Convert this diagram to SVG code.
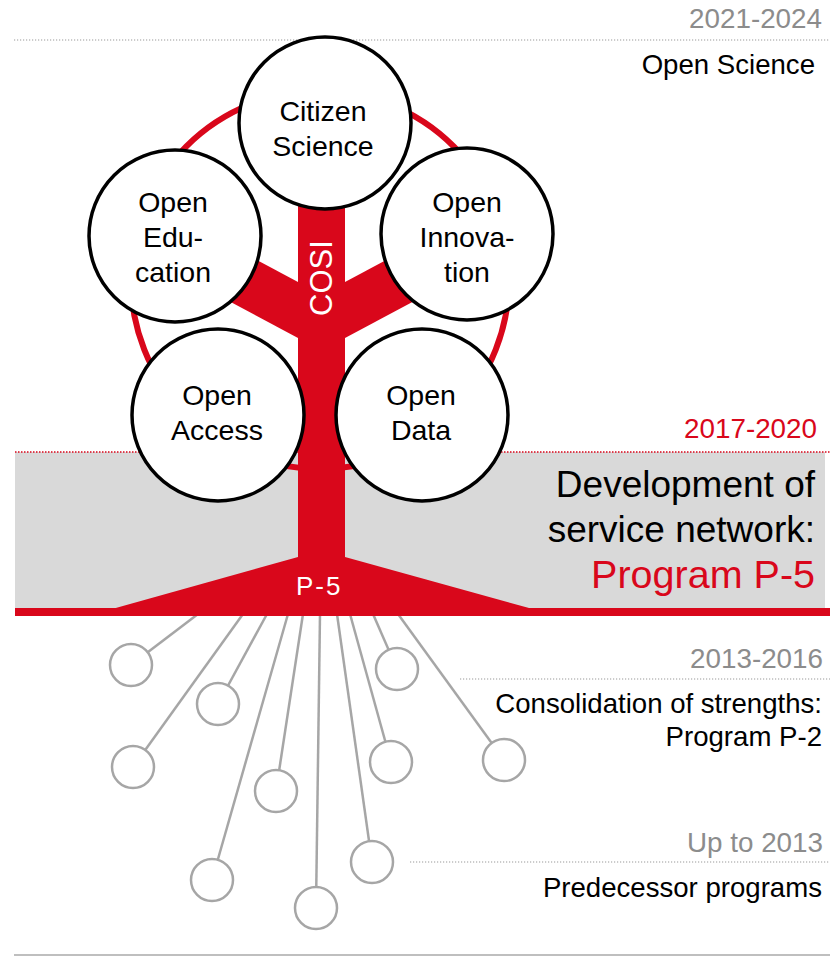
<svg xmlns="http://www.w3.org/2000/svg" width="830" height="957" viewBox="0 0 830 957">
<defs>
<style>
text{font-family:"Liberation Sans",Arial,sans-serif}
.yr{fill:#8c8c8c;font-size:27.8px;text-anchor:end}
.lbl{fill:#000;font-size:27.6px;text-anchor:end}
.big{font-size:37px;text-anchor:end}
.node{fill:#fff;stroke:#000;stroke-width:3.5}
.nt{fill:#000;font-size:28.5px;text-anchor:middle}
.root{stroke:#a6a6a6;stroke-width:2.5;fill:none}
.rc{fill:#fff;stroke:#a6a6a6;stroke-width:2.5}
.dot{stroke:#999;stroke-width:1.2;stroke-dasharray:1.2 1.8;fill:none}
.red{fill:#d9071b}
</style>
<clipPath id="p5clip"><rect x="280" y="560" width="64" height="50"/></clipPath>
</defs>
<rect id="band" x="15" y="452" width="810" height="158" fill="#d9d9d9"/>
<line class="dot" x1="14" y1="40" x2="830" y2="40"/>
<line x1="15" y1="452" x2="830" y2="452" stroke="#d9071b" stroke-width="1.5" stroke-dasharray="1.5 1.5"/>
<line class="dot" x1="460" y1="679" x2="830" y2="679"/>
<line class="dot" x1="410" y1="862" x2="830" y2="862"/>
<line x1="14" y1="955" x2="830" y2="955" stroke="#aaa" stroke-width="1.5"/>
<g id="roots">
<line class="root" x1="198" y1="614" x2="131" y2="665"/>
<line class="root" x1="243" y1="614" x2="133" y2="767"/>
<line class="root" x1="267" y1="614" x2="218" y2="704"/>
<line class="root" x1="288" y1="614" x2="212" y2="880"/>
<line class="root" x1="303" y1="614" x2="276" y2="791"/>
<line class="root" x1="320" y1="614" x2="316" y2="908"/>
<line class="root" x1="337" y1="614" x2="372" y2="862"/>
<line class="root" x1="350" y1="614" x2="391" y2="762"/>
<line class="root" x1="373" y1="614" x2="397" y2="669"/>
<line class="root" x1="398" y1="614" x2="504" y2="760"/>
</g>
<g id="root-nodes">
<circle class="rc" cx="131" cy="665" r="21"/>
<circle class="rc" cx="218" cy="704" r="21"/>
<circle class="rc" cx="133" cy="767" r="21"/>
<circle class="rc" cx="276" cy="791" r="21"/>
<circle class="rc" cx="212" cy="880" r="21"/>
<circle class="rc" cx="316" cy="908" r="21"/>
<circle class="rc" cx="372" cy="862" r="21"/>
<circle class="rc" cx="391" cy="762" r="21"/>
<circle class="rc" cx="397" cy="669" r="21"/>
<circle class="rc" cx="504" cy="760" r="21"/>
</g>
<g id="tree">
<circle cx="320" cy="280" r="189" fill="none" stroke="#d9071b" stroke-width="6"/>
<polygon class="red" points="298,282 298,338 180,275 180,219"/>
<polygon class="red" points="345,282 345,338 463,275 463,219"/>
<rect class="red" x="298" y="190" width="47" height="375"/>
<polygon class="red" points="298,557 345,557 540,611 105,611"/>
<rect class="red" x="15" y="608" width="815" height="8"/>
<text x="332" y="278" fill="#fff" font-size="31" text-anchor="middle" transform="rotate(-90 332 278)">COSI</text>
<text x="296" y="595" fill="#fff" font-size="26" letter-spacing="2" clip-path="url(#p5clip)">P-5</text>
</g>
<g id="n-citizen"><circle class="node" cx="325" cy="123" r="86"/><text class="nt" x="323" y="121">Citizen</text><text class="nt" x="323" y="156">Science</text></g>
<g id="n-education"><circle class="node" cx="175" cy="236" r="86"/><text class="nt" x="173" y="212">Open</text><text class="nt" x="173" y="247">Edu-</text><text class="nt" x="173" y="282">cation</text></g>
<g id="n-innovation"><circle class="node" cx="467" cy="234" r="86"/><text class="nt" x="467" y="212">Open</text><text class="nt" x="467" y="247">Innova-</text><text class="nt" x="467" y="282">tion</text></g>
<g id="n-access"><circle class="node" cx="218" cy="415" r="86"/><text class="nt" x="217" y="405">Open</text><text class="nt" x="217" y="440">Access</text></g>
<g id="n-data"><circle class="node" cx="422" cy="415" r="86"/><text class="nt" x="421" y="405">Open</text><text class="nt" x="421" y="440">Data</text></g>
<g id="labels">
<text class="yr" x="822" y="28">2021-2024</text>
<text class="lbl" x="815" y="74">Open Science</text>
<text class="yr" x="817" y="438" style="fill:#d9071b">2017-2020</text>
<text class="lbl big" x="815" y="497">Development of</text>
<text class="lbl big" x="815" y="542">service network:</text>
<text class="big" x="815" y="588" fill="#d9071b" style="font-size:39.5px">Program P-5</text>
<text class="yr" x="823" y="668">2013-2016</text>
<text class="lbl" x="822" y="713">Consolidation of strengths:</text>
<text class="lbl" x="822" y="746">Program P-2</text>
<text class="yr" x="823" y="852">Up to 2013</text>
<text class="lbl" x="822" y="897">Predecessor programs</text>
</g>
</svg>
